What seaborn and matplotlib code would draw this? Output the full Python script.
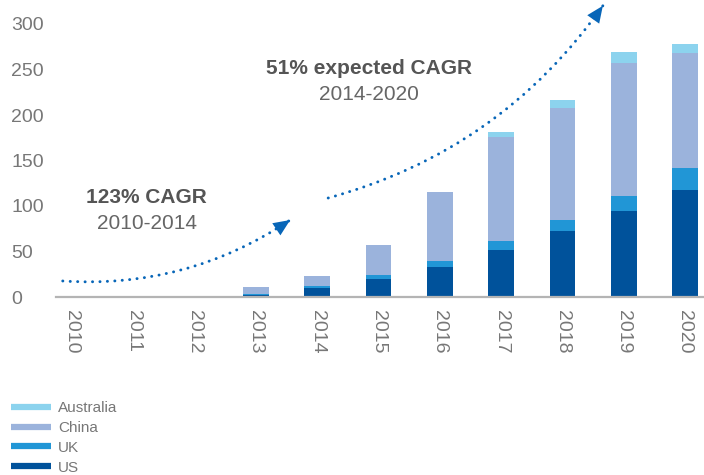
import matplotlib
matplotlib.use("Agg")
import matplotlib.pyplot as plt
from matplotlib.lines import Line2D
import seaborn as sns
import pandas as pd
import numpy as np

years = ["2010", "2011", "2012", "2013", "2014", "2015", "2016", "2017", "2018", "2019", "2020"]
us = [0, 0, 0, 2.5, 10, 20, 33, 52, 72, 95, 118]
uk = [0, 0, 0, 1, 2, 4, 7, 9, 13, 16, 24]
china = [0, 0, 0, 7.5, 11, 33, 75, 115, 123, 146, 126]
australia = [0, 0, 0, 0, 0, 0, 0, 5, 9, 12, 10]

series_names = ["US", "UK", "China", "Australia"]
colors = {"US": "#00529B", "UK": "#2196D6", "China": "#9BB3DC", "Australia": "#8CD3EE"}

sns.set_style("white")
plt.rcParams["font.family"] = ["Liberation Sans", "DejaVu Sans"]

df = pd.DataFrame({"year": years, "US": us, "UK": uk, "China": china, "Australia": australia})
cum = df[series_names].cumsum(axis=1)
cum["year"] = years

fig = plt.figure(figsize=(7.04, 4.75), dpi=100)
ax = fig.add_axes([56 / 704, 178 / 475, 648 / 704, 273 / 475])

for name in reversed(series_names):
    sns.barplot(data=cum, x="year", y=name, color=colors[name], saturation=1,
                width=0.42, ax=ax, linewidth=0)

ax.set_ylim(0, 300)
ax.set_xlim(-0.26, 10.31)
ax.set_xlabel("")
ax.set_ylabel("")
ax.set_yticks([0, 50, 100, 150, 200, 250, 300])
for s in ["top", "right", "left"]:
    ax.spines[s].set_visible(False)
ax.spines["bottom"].set_color("#b4b4b4")
ax.spines["bottom"].set_linewidth(1.6)
ax.tick_params(axis="both", length=0, labelcolor="#777777", labelsize=14)
ax.tick_params(axis="y", pad=32.4)
for lab in ax.get_yticklabels():
    lab.set_horizontalalignment("left")
ax.tick_params(axis="x", pad=9)
for lab in ax.get_xticklabels():
    lab.set_rotation(270)

arrow_col = "#0866B8"

def dotted_arrow(start, end, rad):
    ax.annotate("", xy=end, xytext=start, xycoords="data", textcoords="data",
                annotation_clip=False,
                arrowprops=dict(arrowstyle="-", color=arrow_col, lw=2.1,
                                linestyle=(0, (0.05, 2.5)), capstyle="round",
                                connectionstyle=f"arc3,rad={rad}",
                                shrinkA=0, shrinkB=0))
    ax.annotate("", xy=end, xytext=start, xycoords="data", textcoords="data",
                annotation_clip=False,
                arrowprops=dict(arrowstyle="-|>,head_length=0.8,head_width=0.35",
                                mutation_scale=15, color=arrow_col, lw=0,
                                connectionstyle=f"arc3,rad={rad}",
                                shrinkA=0, shrinkB=0))

dotted_arrow((-0.15, 17.6), (3.56, 84.6), 0.17)
dotted_arrow((4.18, 108.8), (8.66, 320), 0.18)

ax.text(1.22, 109, "123% CAGR", ha="center", va="center", fontsize=15,
        fontweight="bold", color="#555555")
ax.text(1.22, 81, "2010-2014", ha="center", va="center", fontsize=15,
        color="#666666")
ax.text(4.84, 251.6, "51% expected CAGR", ha="center", va="center", fontsize=15,
        fontweight="bold", color="#555555")
ax.text(4.84, 223, "2014-2020", ha="center", va="center", fontsize=15,
        color="#666666")

handles = [Line2D([0], [0], color=colors[n], lw=4.5, solid_capstyle="butt")
           for n in ["Australia", "China", "UK", "US"]]
fig.legend(handles=handles, labels=["Australia", "China", "UK", "US"],
           loc="upper left", bbox_to_anchor=(-1 / 704, 1 - 389 / 475),
           frameon=False, fontsize=11, labelcolor="#777777",
           handlelength=2.6, handletextpad=0.45, labelspacing=0.38,
           borderpad=0.3)

fig.savefig("out.png", dpi=100)
